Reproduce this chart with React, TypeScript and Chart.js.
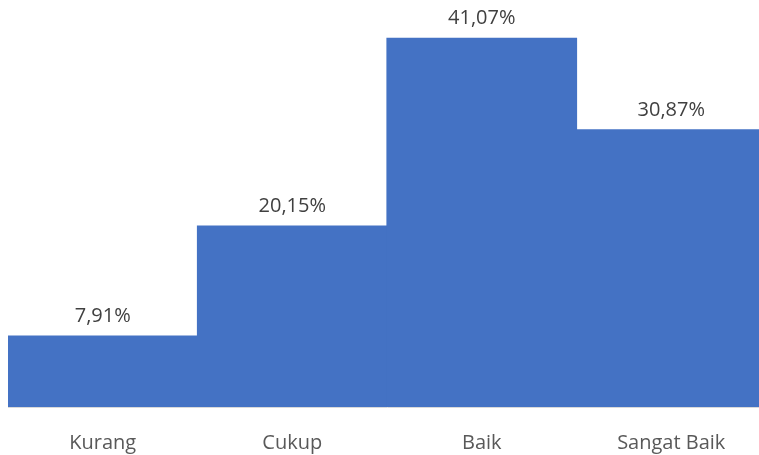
import React, { useEffect, useRef } from "react";
import { Chart, registerables } from "chart.js";

Chart.register(...registerables);

const categories: string[] = ["Kurang", "Cukup", "Baik", "Sangat Baik"];
const values: number[] = [7.91, 20.15, 41.07, 30.87];

const FONT = "'Open Sans', sans-serif";

const dataLabelPlugin = {
  id: "dataLabels",
  afterDatasetsDraw(chart: any) {
    const ctx = chart.ctx;
    const meta = chart.getDatasetMeta(0);
    ctx.save();
    ctx.font = `20px ${FONT}`;
    ctx.fillStyle = "#404040";
    ctx.textAlign = "center";
    ctx.textBaseline = "middle";
    meta.data.forEach((bar: any, i: number) => {
      const txt = values[i].toFixed(2).replace(".", ",") + "%";
      ctx.fillText(txt, bar.x, bar.y - 20);
    });
    ctx.restore();
  },
};

export default function App() {
  const ref = useRef<HTMLCanvasElement | null>(null);
  useEffect(() => {
    document.documentElement.style.overflow = "hidden";
    document.body.style.margin = "0";
    if (!ref.current) return;
    const chart = new Chart(ref.current, {
      type: "bar",
      data: {
        labels: categories,
        datasets: [
          {
            data: values,
            backgroundColor: "#4472C4",
            borderWidth: 0,
            inflateAmount: 0.6,
            categoryPercentage: 1,
            barPercentage: 1,
          } as any,
        ],
      },
      options: {
        animation: false,
        responsive: false,
        maintainAspectRatio: false,
        layout: { padding: { top: 12, left: 8, right: 0, bottom: 0 } },
        plugins: { legend: { display: false }, tooltip: { enabled: false } },
        scales: {
          x: {
            grid: { display: false },
            border: { display: true, color: "#d9d9d9", width: 1 },
            ticks: {
              color: "#595959",
              font: { family: FONT, size: 20 },
              padding: 16,
              maxRotation: 0,
            },
          },
          y: {
            display: false,
            min: 0,
            max: 44,
          },
        },
      },
      plugins: [dataLabelPlugin],
    });
    return () => chart.destroy();
  }, []);
  return (
    <div style={{ width: 759, height: 455, overflow: "hidden" }}>
      <canvas ref={ref} width={766} height={471} />
    </div>
  );
}
